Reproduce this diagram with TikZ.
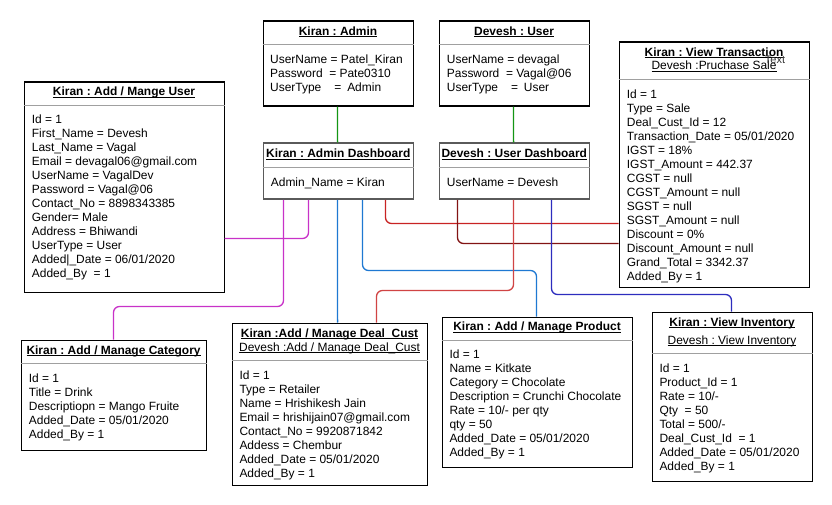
\documentclass[tikz,border=0pt]{standalone}
\usepackage{fontspec}
\setmainfont{Liberation Sans}
\frenchspacing
\newcommand\fs{\fontsize{12}{14.05}\selectfont}
\newcommand\uln[1]{\setbox0=\hbox{#1}\rlap{\rule[-1.4pt]{\wd0}{0.8pt}}\box0}
\definecolor{grn}{RGB}{20,150,20}
\definecolor{mag}{RGB}{200,50,200}
\definecolor{blu}{RGB}{30,120,210}
\definecolor{rd}{RGB}{200,35,35}
\definecolor{drd}{RGB}{130,20,20}
\definecolor{nvy}{RGB}{45,45,190}
\definecolor{sepc}{RGB}{160,160,160}
\tikzset{
  box/.style={draw=black, line width=1.1bp, fill=white, inner sep=0pt, anchor=north west},
  dashbox/.style={box, draw={rgb,255:red,90;green,90;blue,90}, line width=1.5bp},
  sepline/.style={draw=sepc, line width=1.1bp},
  body/.style={anchor=north west, inner sep=0pt, align=left, font=\fs},
  head/.style={anchor=base, inner sep=0pt, font=\fs\bfseries},
  headn/.style={anchor=base, inner sep=0pt, font=\fs},
  conn/.style={line width=1.3bp, rounded corners=6bp},
}
% name, left, top, right, bottom, separator y, style
\newcommand\objbox[7]{%
  \node[#7, minimum width={#4bp-#2bp}, minimum height={#5bp-#3bp}] (#1) at (#2,#3) {};
  \draw[sepline] (#1.west |- 0,#6) -- (#1.east |- 0,#6);
}
\begin{document}
\begin{tikzpicture}[x=1bp,y=-1bp]
\useasboundingbox (0,0) rectangle (832,505);
\fill[white] (0,0) rectangle (832,505);

\objbox{admin}{262.5}{20.5}{412.5}{105.5}{44.5}{box}
\objbox{user}{438.5}{20.5}{588.5}{105.5}{44.5}{box}
\objbox{mange}{23.5}{81.5}{223.5}{291.5}{105.5}{box}
\objbox{trans}{618.5}{41.5}{808.5}{286.5}{79.5}{box}
\objbox{cat}{20.5}{339.5}{205.5}{449.5}{363.5}{box}
\objbox{deal}{231.5}{322.5}{426.5}{484.5}{360.5}{box}
\objbox{prod}{441.5}{316.5}{631.5}{466.5}{340.5}{box}
\objbox{inv}{651.5}{311.5}{811.5}{480.5}{353.5}{box}
\objbox{admdash}{262.5}{142.5}{412.5}{198.5}{167.5}{dashbox}
\objbox{usrdash}{438.5}{142.5}{588.5}{198.5}{167.5}{dashbox}

% connectors
\draw[conn, draw=grn] (337.5,0 |- admin.south) -- (337.5,124) -- (337.6,0 |- admdash.north);
\draw[conn, draw=grn] (513.5,0 |- user.south) -- (513.5,124) -- (513.6,0 |- usrdash.north);
\draw[conn, draw=mag] (mange.east |- 0,238.5) -- (308.5,238.5) -- (308.5,0 |- admdash.south);
\draw[conn, draw=mag] (283.5,0 |- admdash.south) -- (283.5,306.5) -- (113.5,306.5) -- (113.5,0 |- cat.north);
\draw[conn, draw=blu] (337.5,0 |- admdash.south) -- (337.5,260) -- (337.6,0 |- deal.north);
\draw[conn, draw=blu] (362.5,0 |- admdash.south) -- (362.5,270.5) -- (536.5,270.5) -- (536.5,0 |- prod.north);
\draw[conn, draw=rd] (385.5,0 |- admdash.south) -- (385.5,223.5) -- (trans.west |- 0,223.5);
\draw[conn, draw=drd] (457.5,0 |- usrdash.south) -- (457.5,243.5) -- (trans.west |- 0,243.5);
\draw[conn, draw=rd!85] (513.5,0 |- usrdash.south) -- (513.5,290.5) -- (376.5,290.5) -- (376.5,0 |- deal.north);
\draw[conn, draw=nvy] (551.5,0 |- usrdash.south) -- (551.5,294.5) -- (731.5,294.5) -- (731.5,0 |- inv.north);

% headers
\node[head] (adminh) at (admin.north |- 0,35.3) {\uln{Kiran : Admin}};
\node[head] (userh) at (user.north |- 0,35.3) {\uln{Devesh : User}};
\node[head] (mangeh) at (mange.north |- 0,96) {\uln{Kiran : Add / Mange User}};
\node[head] (admdashh) at (admdash.north |- 0,158) {\uln{Kiran : Admin Dashboard}};
\node[head] (usrdashh) at (usrdash.north |- 0,158) {\uln{Devesh : User Dashboard}};
\node[head] (transh) at (trans.north |- 0,56.6) {\uln{Kiran : View Transaction}};
\node[headn] (transh2) at (trans.north |- 0,70) {\uln{Devesh :Pruchase Sale}};
\node[anchor=base, inner sep=0pt, font=\fontsize{11}{13}\selectfont, text=black!80] (txt) at (775,63.5) {Text};
\node[head] (cath) at (cat.north |- 0,354.3) {\uln{Kiran : Add / Manage Category}};
\node[head] (dealh) at (deal.north |- 0,337) {\uln{Kiran :Add / Manage Deal\_Cust}};
\node[headn] (dealh2) at (deal.north |- 0,351) {\uln{Devesh :Add / Manage Deal\_Cust}};
\node[head] (prodh) at (prod.north |- 0,331) {\uln{Kiran : Add / Manage Product}};
\node[head] (invh) at (inv.north |- 0,326.6) {\uln{Kiran : View Inventory}};
\node[headn] (invh2) at (inv.north |- 0,344.3) {\uln{Devesh : View Inventory}};

% bodies
\node[body] (adminb) at (270,54.4) {UserName = Patel\_Kiran\\Password\ \ = Pate0310\\UserType\hspace{13pt}=\hspace{6pt}Admin};
\node[body] (userb) at (446.7,54.4) {UserName = devagal\\Password\ \ = Vagal@06\\UserType\hspace{13pt}=\hspace{6pt}User};
\node[body] (mangeb) at (31.7,114.7) {Id = 1\\First\_Name = Devesh\\Last\_Name = Vagal\\Email = devagal06@gmail.com\\UserName = VagalDev\\Password = Vagal@06\\Contact\_No = 8898343385\\Gender= Male\\Address = Bhiwandi\\UserType = User\\Added|\_Date = 06/01/2020\\Added\_By\ \ = 1};
\node[body] (admdashb) at (270.7,177.7) {Admin\_Name = Kiran};
\node[body] (usrdashb) at (446.7,177.7) {UserName = Devesh};
\node[body] (transb) at (626.7,89.7) {Id = 1\\Type = Sale\\Deal\_Cust\_Id = 12\\Transaction\_Date = 05/01/2020\\IGST = 18\%\\IGST\_Amount = 442.37\\CGST = null\\CGST\_Amount = null\\SGST = null\\SGST\_Amount = null\\Discount = 0\%\\Discount\_Amount = null\\Grand\_Total = 3342.37\\Added\_By = 1};
\node[body] (catb) at (28.7,373.4) {Id = 1\\Title = Drink\\Descriptiopn = Mango Fruite\\Added\_Date = 05/01/2020\\Added\_By = 1};
\node[body] (dealb) at (239.3,370.7) {Id = 1\\Type = Retailer\\Name = Hrishikesh Jain\\Email = hrishijain07@gmail.com\\Contact\_No = 9920871842\\Addess = Chembur\\Added\_Date = 05/01/2020\\Added\_By = 1};
\node[body] (prodb) at (449.3,350) {Id = 1\\Name = Kitkate\\Category = Chocolate\\Description = Crunchi Chocolate\\Rate = 10/- per qty\\qty = 50\\Added\_Date = 05/01/2020\\Added\_By = 1};
\node[body] (invb) at (659.3,363.4) {Id = 1\\Product\_Id = 1\\Rate = 10/-\\Qty\ \ = 50\\Total = 500/-\\Deal\_Cust\_Id\ \ = 1\\Added\_Date = 05/01/2020\\Added\_By = 1};
\end{tikzpicture}
\end{document}
